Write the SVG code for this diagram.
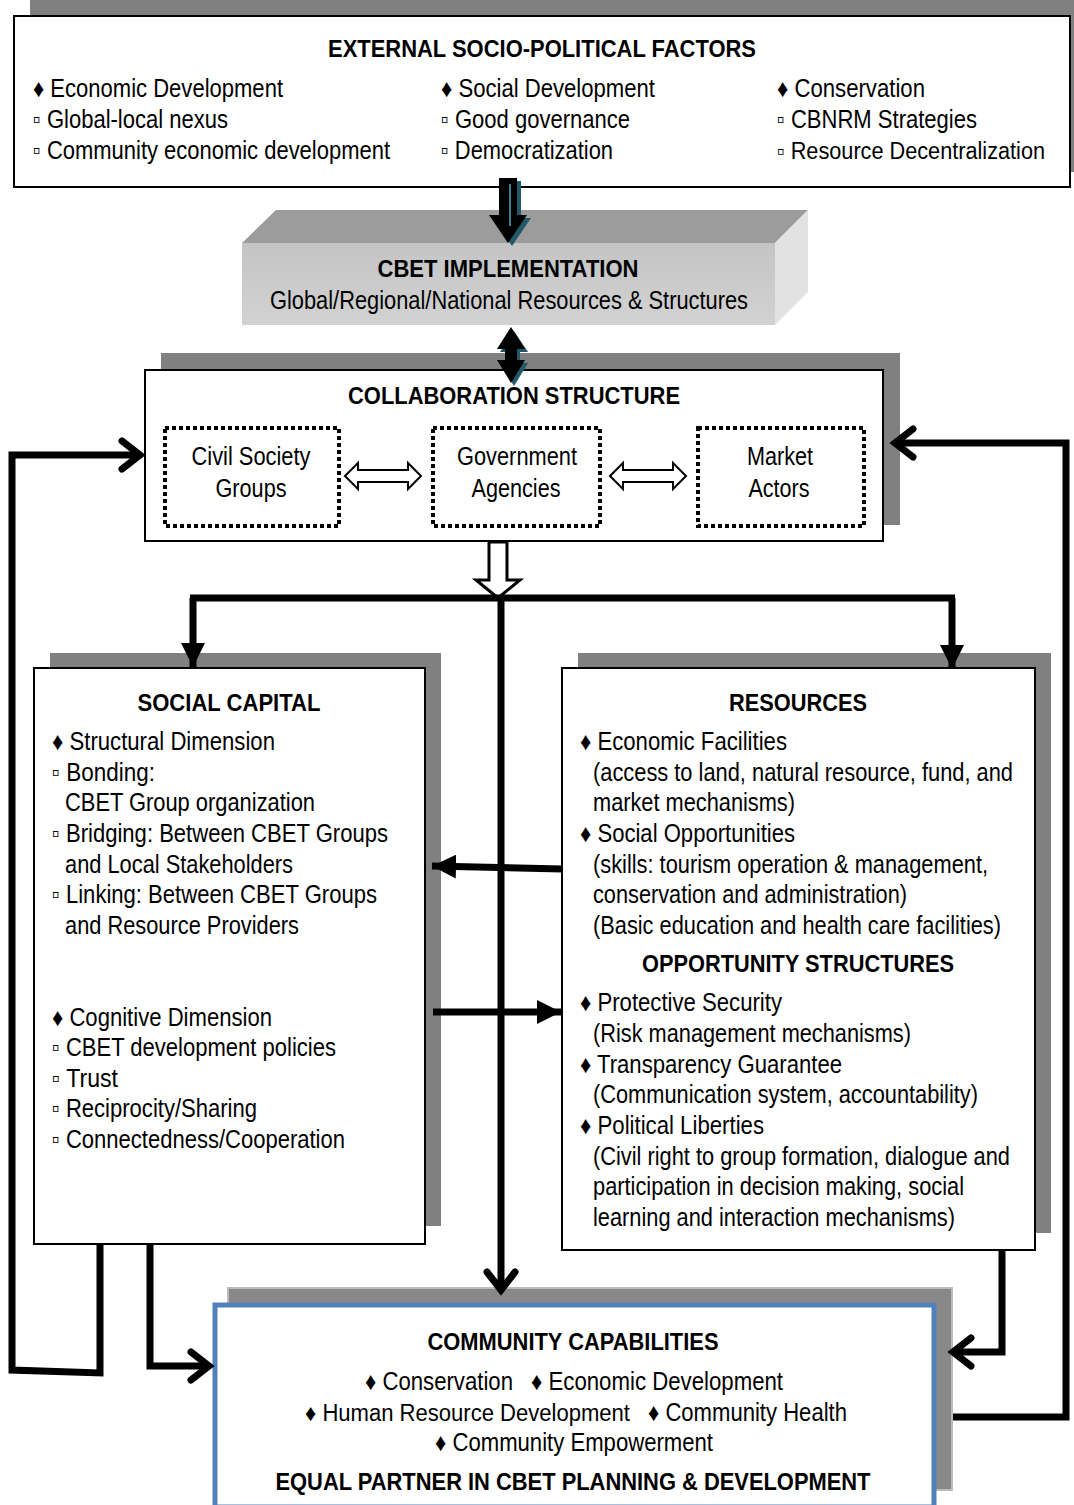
<svg xmlns="http://www.w3.org/2000/svg" width="1074" height="1505" viewBox="0 0 1074 1505">
<style>
.t{font-family:"Liberation Sans",Arial,sans-serif;font-size:25px;fill:#000}
.b{font-weight:bold;font-size:24px}
.c{text-anchor:middle}
.s{font-size:23.5px}
.box{fill:#fff;stroke:#000;stroke-width:2}
.sh{fill:#808080}
.dot{fill:none;stroke:#000;stroke-width:4;stroke-dasharray:4 3}
.ln{fill:none;stroke:#000;stroke-width:7;stroke-linejoin:miter}
.hol{fill:#fff;stroke:#000;stroke-width:2}
</style>
<defs>
<linearGradient id="front" x1="0" y1="0" x2="0" y2="1">
<stop offset="0" stop-color="#c4c4c4"/>
<stop offset="1" stop-color="#d2d2d2"/>
</linearGradient>
<marker id="tri" markerUnits="userSpaceOnUse" viewBox="0 0 24 24" markerWidth="24" markerHeight="24" refX="24" refY="12" orient="auto">
<path d="M0,0 L24,12 L0,24 z" fill="#000"/>
</marker>
<marker id="chev" markerUnits="userSpaceOnUse" viewBox="-4 -4 30 38" markerWidth="30" markerHeight="38" refX="20" refY="15" orient="auto" overflow="visible">
<path d="M2,1 L20,15 L2,29" fill="none" stroke="#000" stroke-width="7" stroke-linecap="round" stroke-linejoin="miter"/>
</marker>
</defs>

<!-- External factors -->
<g id="external">
<rect class="sh" x="30" y="0" width="1044" height="172"/>
<rect class="box" x="14" y="16" width="1056" height="171"/>
<text class="t b c" x="542" y="57" textLength="428" lengthAdjust="spacingAndGlyphs">EXTERNAL SOCIO-POLITICAL FACTORS</text>
<text class="t" x="33" y="97" textLength="250" lengthAdjust="spacingAndGlyphs">♦ Economic Development</text>
<text class="t" x="33" y="128" textLength="195" lengthAdjust="spacingAndGlyphs">▫ Global-local nexus</text>
<text class="t" x="33" y="159" textLength="357" lengthAdjust="spacingAndGlyphs">▫ Community economic development</text>
<text class="t" x="441" y="97" textLength="214" lengthAdjust="spacingAndGlyphs">♦ Social Development</text>
<text class="t" x="441" y="128" textLength="189" lengthAdjust="spacingAndGlyphs">▫ Good governance</text>
<text class="t" x="441" y="159" textLength="172" lengthAdjust="spacingAndGlyphs">▫ Democratization</text>
<text class="t" x="777" y="97" textLength="148" lengthAdjust="spacingAndGlyphs">♦ Conservation</text>
<text class="t" x="777" y="128" textLength="200" lengthAdjust="spacingAndGlyphs">▫ CBNRM Strategies</text>
<text class="t s" x="777" y="159" textLength="268" lengthAdjust="spacingAndGlyphs">▫ Resource Decentralization</text>
</g>

<!-- CBET implementation -->
<g id="cbet">
<polygon points="242,243 276,210 808,210 775,243" fill="#9c9c9c"/>
<polygon points="775,243 808,210 808,292 775,325" fill="#e2e2e2"/>
<rect x="242" y="243" width="533" height="82" fill="url(#front)"/>
<text class="t b c" x="508" y="277" textLength="261" lengthAdjust="spacingAndGlyphs">CBET IMPLEMENTATION</text>
<text class="t c" x="509" y="309" textLength="478" lengthAdjust="spacingAndGlyphs">Global/Regional/National Resources &amp; Structures</text>
</g>

<!-- Collaboration structure -->
<g id="collaboration">
<rect class="sh" x="161" y="353" width="739" height="172"/>
<rect class="box" x="145" y="370" width="738" height="171"/>
<text class="t b c" x="514" y="404" textLength="332" lengthAdjust="spacingAndGlyphs">COLLABORATION STRUCTURE</text>
</g>
<g id="civil">
<rect class="dot" x="165" y="428" width="174" height="98"/>
<text class="t c" x="251" y="465" textLength="119" lengthAdjust="spacingAndGlyphs">Civil Society</text>
<text class="t c" x="251" y="497" textLength="71" lengthAdjust="spacingAndGlyphs">Groups</text>
</g>
<g id="government">
<rect class="dot" x="433" y="428" width="167" height="98"/>
<text class="t c" x="517" y="465" textLength="120" lengthAdjust="spacingAndGlyphs">Government</text>
<text class="t c" x="516" y="497" textLength="89" lengthAdjust="spacingAndGlyphs">Agencies</text>
</g>
<g id="market">
<rect class="dot" x="698" y="428" width="166" height="98"/>
<text class="t c" x="780" y="465" textLength="66" lengthAdjust="spacingAndGlyphs">Market</text>
<text class="t c" x="779" y="497" textLength="61" lengthAdjust="spacingAndGlyphs">Actors</text>
</g>

<!-- Social capital -->
<g id="social-capital">
<rect class="sh" x="50" y="653" width="391" height="573"/>
<rect class="box" x="34" y="668" width="391" height="576"/>
<text class="t b c" x="229" y="711" textLength="183" lengthAdjust="spacingAndGlyphs">SOCIAL CAPITAL</text>
<text class="t" x="52" y="750" textLength="223" lengthAdjust="spacingAndGlyphs">♦ Structural Dimension</text>
<text class="t" x="52" y="781" textLength="103" lengthAdjust="spacingAndGlyphs">▫ Bonding:</text>
<text class="t" x="65" y="811" textLength="250" lengthAdjust="spacingAndGlyphs">CBET Group organization</text>
<text class="t" x="52" y="842" textLength="336" lengthAdjust="spacingAndGlyphs">▫ Bridging: Between CBET Groups</text>
<text class="t" x="65" y="873" textLength="228" lengthAdjust="spacingAndGlyphs">and Local Stakeholders</text>
<text class="t" x="52" y="903" textLength="325" lengthAdjust="spacingAndGlyphs">▫ Linking: Between CBET Groups</text>
<text class="t" x="65" y="934" textLength="234" lengthAdjust="spacingAndGlyphs">and Resource Providers</text>
<text class="t" x="52" y="1026" textLength="220" lengthAdjust="spacingAndGlyphs">♦ Cognitive Dimension</text>
<text class="t" x="52" y="1056" textLength="284" lengthAdjust="spacingAndGlyphs">▫ CBET development policies</text>
<text class="t" x="52" y="1087" textLength="66" lengthAdjust="spacingAndGlyphs">▫ Trust</text>
<text class="t" x="52" y="1117" textLength="205" lengthAdjust="spacingAndGlyphs">▫ Reciprocity/Sharing</text>
<text class="t" x="52" y="1148" textLength="293" lengthAdjust="spacingAndGlyphs">▫ Connectedness/Cooperation</text>
</g>

<!-- Resources -->
<g id="resources">
<rect class="sh" x="578" y="653" width="473" height="580"/>
<rect class="box" x="562" y="668" width="473" height="582"/>
<text class="t b c" x="798" y="711" textLength="138" lengthAdjust="spacingAndGlyphs">RESOURCES</text>
<text class="t" x="580" y="750" textLength="207" lengthAdjust="spacingAndGlyphs">♦ Economic Facilities</text>
<text class="t" x="593" y="781" textLength="420" lengthAdjust="spacingAndGlyphs">(access to land, natural resource, fund, and</text>
<text class="t" x="593" y="811" textLength="202" lengthAdjust="spacingAndGlyphs">market mechanisms)</text>
<text class="t" x="580" y="842" textLength="215" lengthAdjust="spacingAndGlyphs">♦ Social Opportunities</text>
<text class="t" x="593" y="873" textLength="395" lengthAdjust="spacingAndGlyphs">(skills: tourism operation &amp; management,</text>
<text class="t" x="593" y="903" textLength="314" lengthAdjust="spacingAndGlyphs">conservation and administration)</text>
<text class="t" x="593" y="934" textLength="408" lengthAdjust="spacingAndGlyphs">(Basic education and health care facilities)</text>
<text class="t b c" x="798" y="972" textLength="312" lengthAdjust="spacingAndGlyphs">OPPORTUNITY STRUCTURES</text>
<text class="t" x="580" y="1011" textLength="202" lengthAdjust="spacingAndGlyphs">♦ Protective Security</text>
<text class="t" x="593" y="1042" textLength="318" lengthAdjust="spacingAndGlyphs">(Risk management mechanisms)</text>
<text class="t" x="580" y="1073" textLength="262" lengthAdjust="spacingAndGlyphs">♦ Transparency Guarantee</text>
<text class="t" x="593" y="1103" textLength="385" lengthAdjust="spacingAndGlyphs">(Communication system, accountability)</text>
<text class="t" x="580" y="1134" textLength="184" lengthAdjust="spacingAndGlyphs">♦ Political Liberties</text>
<text class="t" x="593" y="1165" textLength="417" lengthAdjust="spacingAndGlyphs">(Civil right to group formation, dialogue and</text>
<text class="t" x="593" y="1195" textLength="371" lengthAdjust="spacingAndGlyphs">participation in decision making, social</text>
<text class="t" x="593" y="1226" textLength="362" lengthAdjust="spacingAndGlyphs">learning and interaction mechanisms)</text>
</g>

<!-- Community capabilities -->
<g id="community">
<rect x="228" y="1288" width="724" height="202" fill="#888" stroke="#bbb" stroke-width="2"/>
<rect x="215" y="1305" width="719" height="202" fill="#fff" stroke="#4f81bd" stroke-width="5"/>
<text class="t b c" x="573" y="1350" textLength="291" lengthAdjust="spacingAndGlyphs">COMMUNITY CAPABILITIES</text>
<text class="t" x="365" y="1390" textLength="148" lengthAdjust="spacingAndGlyphs">♦ Conservation</text>
<text class="t" x="531" y="1390" textLength="252" lengthAdjust="spacingAndGlyphs">♦ Economic Development</text>
<text class="t s" x="305" y="1421" textLength="325" lengthAdjust="spacingAndGlyphs">♦ Human Resource Development</text>
<text class="t" x="648" y="1421" textLength="199" lengthAdjust="spacingAndGlyphs">♦ Community Health</text>
<text class="t c" x="574" y="1451" textLength="278" lengthAdjust="spacingAndGlyphs">♦ Community Empowerment</text>
<text class="t b c" x="573" y="1490" textLength="595" lengthAdjust="spacingAndGlyphs">EQUAL PARTNER IN CBET PLANNING &amp; DEVELOPMENT</text>
</g>

<!-- Connectors -->
<g id="connectors">
<polygon points="503,181 521,181 521,218 531,218 512,246 493,218 503,218" fill="#215968"/>
<polygon points="499,178 517,178 517,215 527,215 508,243 489,215 499,215" fill="#000"/>
<line x1="510" y1="184" x2="510" y2="226" stroke="#4bacc6" stroke-width="1.5"/>
<polygon points="514,331 528,352 520,352 520,363 528,363 514,386 500,363 508,363 508,352 500,352" fill="#215968"/>
<polygon points="511,327 525,349 517,349 517,360 525,360 511,383 497,360 505,360 505,349 497,349" fill="#000"/>
<polygon class="hol" points="345,476 358,463 358,470 408,470 408,463 421,476 408,489 408,482 358,482 358,489"/>
<polygon class="hol" points="610,476 623,463 623,470 673,470 673,463 686,476 673,489 673,482 623,482 623,489"/>
<polygon points="489,542 507,542 507,580 520,580 498,598 476,580 489,580" fill="#fff" stroke="#000" stroke-width="3" stroke-linejoin="miter"/>
<path class="ln" d="M190,598 H955"/>
<path class="ln" d="M193,598 V667" marker-end="url(#tri)" stroke-width="6"/>
<path class="ln" d="M952,598 V669" marker-end="url(#tri)" stroke-width="6"/>
<path class="ln" d="M501,601 V1290" marker-end="url(#chev)"/>
<path class="ln" d="M562,869 L432,866" marker-end="url(#tri)" stroke-width="6"/>
<path class="ln" d="M433,1012 H561" marker-end="url(#tri)" stroke-width="6"/>
<path class="ln" d="M100,1244 V1373 L12,1370 V455 H140" marker-end="url(#chev)"/>
<path class="ln" d="M150,1244 V1366 H209" marker-end="url(#chev)"/>
<path class="ln" d="M1002,1250 V1352 H953" marker-end="url(#chev)"/>
<path class="ln" d="M953,1417 H1066 V443 H895" marker-end="url(#chev)"/>
</g>
</svg>
